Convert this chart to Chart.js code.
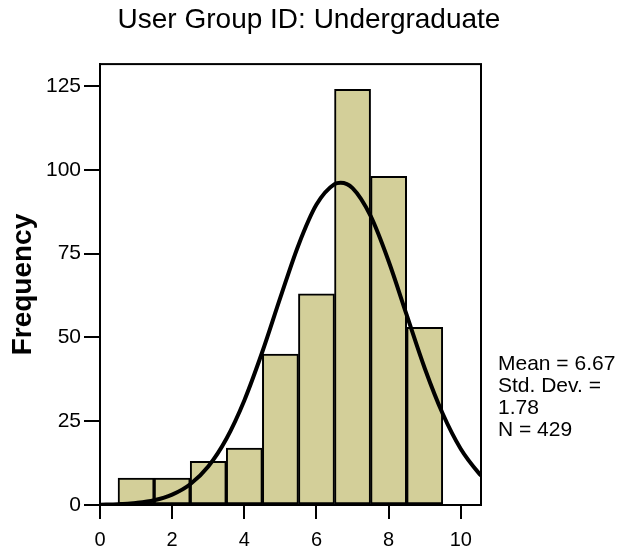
<!DOCTYPE html>
<html>
<head>
<meta charset="utf-8">
<script src="https://cdn.jsdelivr.net/npm/chart.js@4/dist/chart.umd.min.js"></script>
<style>
  html, body { margin: 0; padding: 0; background: #ffffff; }
  canvas { display: block; }
</style>
</head>
<body>
<canvas id="c" width="618" height="550"></canvas>
<script>
// ---- data ----
const chartTitle = "User Group ID: Undergraduate";
const yTitle = "Frequency";
const binCenters = [1, 2, 3, 4, 5, 6, 7, 8, 9];
const binCounts  = [8, 8, 13, 17, 45, 63, 124, 98, 53];
const curveX = [0, 0.5, 1, 1.5, 2, 2.5, 3, 3.5, 4, 4.5, 5, 5.5, 6, 6.5, 6.67, 7, 7.5, 8, 8.5, 9, 9.5, 10, 10.5, 10.6];
const curveY = [0.1, 0.2, 0.6, 1.4, 3.1, 6.2, 11.5, 19.7, 31.2, 45.7, 61.9, 77.5, 89.6, 95.7, 96.1, 94.5, 86.2, 72.7, 56.7, 40.8, 27.2, 16.7, 9.5, 8.4];
const xTicks = [0, 2, 4, 6, 8, 10];
const yTicks = [0, 25, 50, 75, 100, 125];
const statsLines = ["Mean = 6.67", "Std. Dev. =", "1.78", "N = 429"];

const FONT = "'Liberation Sans', Arial, Helvetica, sans-serif";

const barData = binCenters.map((x, i) => ({ x: x, y: binCounts[i] }));
const curveData = curveX.map((x, i) => ({ x: x, y: curveY[i] }));

const framePlugin = {
  id: 'frame',
  afterDraw(chart) {
    const { ctx, chartArea: a } = chart;
    ctx.save();
    ctx.strokeStyle = '#000';
    ctx.lineWidth = 2;
    ctx.strokeRect(a.left, a.top, a.right - a.left, a.bottom - a.top);
    // statistics box text
    ctx.fillStyle = '#000';
    ctx.font = '21px ' + FONT;
    ctx.textAlign = 'left';
    ctx.textBaseline = 'alphabetic';
    const x0 = a.right + 17;
    statsLines.forEach((t, i) => ctx.fillText(t, x0, 370 + i * 22));
    ctx.restore();
  }
};

new Chart(document.getElementById('c'), {
  type: 'bar',
  data: {
    datasets: [
      {
        type: 'line',
        data: curveData,
        borderColor: '#000',
        borderWidth: 4,
        pointRadius: 0,
        fill: false,
        cubicInterpolationMode: 'monotone',
        order: 0,
        clip: 0
      },
      {
        type: 'bar',
        data: barData,
        backgroundColor: '#d3cf99',
        borderColor: '#000',
        borderWidth: 2,
        borderSkipped: false,
        barPercentage: 1,
        categoryPercentage: 1,
        order: 1
      }
    ]
  },
  options: {
    responsive: false,
    animation: false,
    devicePixelRatio: 1,
    layout: { padding: 0 },
    plugins: {
      legend: { display: false },
      tooltip: { enabled: false },
      title: {
        display: true,
        text: chartTitle,
        color: '#000',
        font: { family: FONT, size: 28, weight: 'normal' },
        padding: { top: 3.5, bottom: 27 }
      }
    },
    scales: {
      x: {
        type: 'linear',
        position: 'bottom',
        min: 0,
        max: 10.56,
        offset: false,
        afterFit(s) { s.height = 45; },
        afterBuildTicks(s) { s.ticks = xTicks.map(v => ({ value: v })); },
        ticks: {
          color: '#000',
          font: { family: FONT, size: 20 },
          padding: 9,
          maxRotation: 0
        },
        grid: { display: true, drawOnChartArea: false, drawTicks: true, tickLength: 14, color: '#000', lineWidth: 2, offset: false },
        border: { display: true, color: '#000', width: 2 }
      },
      y: {
        type: 'linear',
        position: 'left',
        min: 0,
        max: 131.5,
        afterFit(s) { s.width = 100; },
        afterBuildTicks(s) { s.ticks = yTicks.map(v => ({ value: v })); },
        ticks: {
          color: '#000',
          font: { family: FONT, size: 21 },
          padding: 3
        },
        grid: { display: true, drawOnChartArea: false, drawTicks: true, tickLength: 16, color: '#000', lineWidth: 2 },
        border: { display: true, color: '#000', width: 2 },
        title: {
          display: true,
          text: yTitle,
          color: '#000',
          font: { family: FONT, size: 28, weight: 'bold' },
          padding: { top: 6, bottom: 0 }
        }
      },
      yR: {
        type: 'linear',
        position: 'right',
        display: true,
        afterFit(s) { s.width = 137; },
        ticks: { display: false },
        grid: { display: false, drawTicks: false },
        border: { display: false }
      }
    }
  },
  plugins: [framePlugin]
});
</script>
</body>
</html>
